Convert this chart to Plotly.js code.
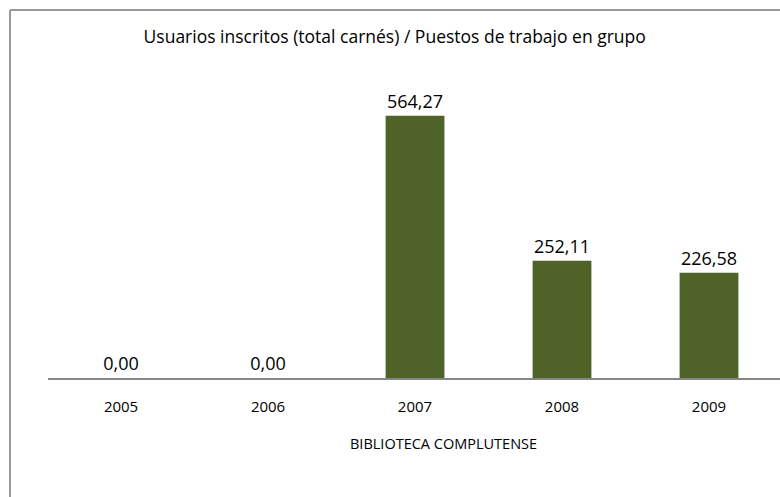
<!DOCTYPE html>
<html>
<head>
<meta charset="utf-8">
<script src="https://cdn.plot.ly/plotly-3.0.1.min.js"></script>
<style>
  html, body { margin: 0; padding: 0; background: #fff; overflow: hidden; }
  #chart { width: 780px; height: 497px; }
</style>
</head>
<body>
<div id="chart"></div>
<script>
const years = ['2005', '2006', '2007', '2008', '2009'];
const values = [0.00, 0.00, 564.27, 252.11, 226.58];
const chartTitle = 'Usuarios inscritos (total carnés) / Puestos de trabajo en grupo';
const axisTitle = 'BIBLIOTECA COMPLUTENSE';

const FONT = 'Open Sans, Liberation Sans, sans-serif';

const trace = {
  type: 'bar',
  x: years,
  y: values,
  width: 0.4,
  marker: { color: '#4f6228' },
  texttemplate: '%{y:.2f}',
  textposition: 'outside',
  cliponaxis: false,
  textfont: { family: FONT, size: 18, color: '#000' },
  hoverinfo: 'none'
};

const layout = {
  width: 780,
  height: 497,
  margin: { l: 48, r: 0, t: 40, b: 119 },
  paper_bgcolor: '#fff',
  plot_bgcolor: '#fff',
  separators: ',.',
  showlegend: false,
  title: {
    text: chartTitle,
    font: { family: FONT, size: 17.5, color: '#000' },
    xref: 'container', yref: 'container',
    x: 0.506, y: 1 - 37 / 497, xanchor: 'center', yanchor: 'middle'
  },
  xaxis: {
    type: 'category',
    range: [-0.497, 4.483],
    showgrid: false,
    zeroline: false,
    showline: true,
    linecolor: '#868686',
    linewidth: 2,
    ticks: 'outside',
    ticklen: 14,
    tickcolor: 'rgba(0,0,0,0)',
    tickfont: { family: FONT, size: 15, color: '#000' }
  },
  yaxis: {
    range: [0, 727.5],
    visible: false,
    fixedrange: true
  },
  annotations: [{
    text: axisTitle,
    xref: 'paper', yref: 'paper',
    x: (443 - 48) / 732, y: (378 - 443) / 338,
    xanchor: 'center', yanchor: 'middle',
    showarrow: false,
    font: { family: FONT, size: 14.5, color: '#000' }
  }],
  shapes: [
    { type: 'line', xref: 'paper', yref: 'paper',
      x0: (10 - 48) / 732, x1: (10 - 48) / 732,
      y0: (378 - 10) / 338, y1: (378 - 510) / 338,
      line: { color: '#9a9a9a', width: 2 } },
    { type: 'line', xref: 'paper', yref: 'paper',
      x0: (10 - 48) / 732, x1: 1.1,
      y0: (378 - 10) / 338, y1: (378 - 10) / 338,
      line: { color: '#9a9a9a', width: 2 } }
  ]
};

Plotly.newPlot('chart', [trace], layout, { displayModeBar: false, staticPlot: true });
</script>
</body>
</html>
